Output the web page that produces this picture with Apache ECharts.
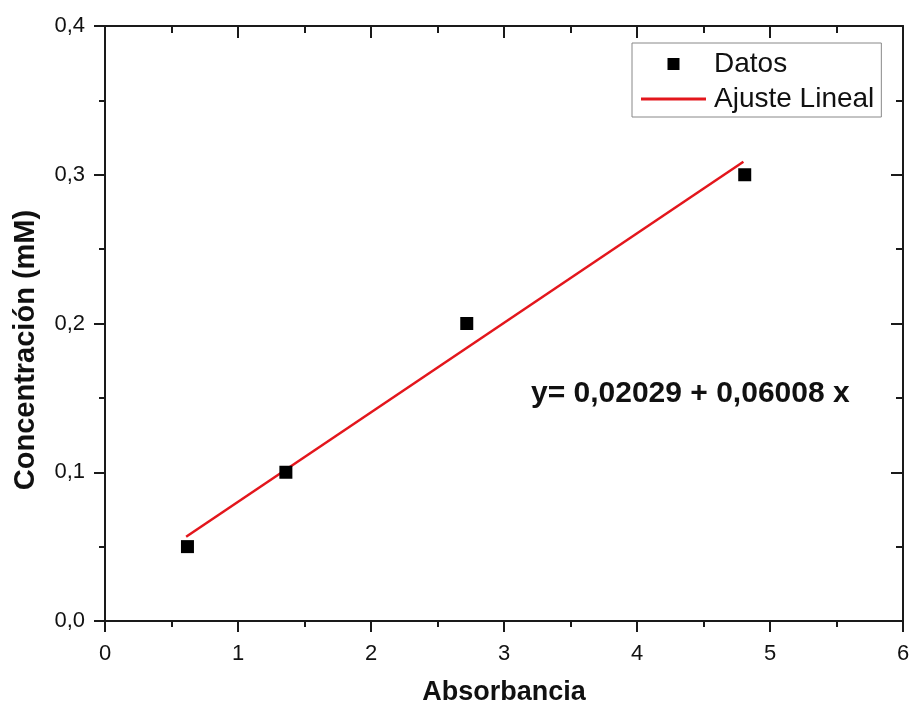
<!DOCTYPE html>
<html>
<head>
<meta charset="utf-8">
<script src="https://cdn.jsdelivr.net/npm/echarts@6/dist/echarts.min.js"></script>
<style>html,body{margin:0;padding:0;background:#fff}#c{width:914px;height:711px}</style>
</head>
<body>
<div id="c"></div>
<script>
var datosX = [0.62, 1.36, 2.72, 4.81];
var datosY = [0.05, 0.10, 0.20, 0.30];
var ajusteX = [0.61, 4.80];
var ajusteY = [0.0566, 0.3087];
var xTitle = 'Absorbancia';
var yTitle = 'Concentración (mM)';
var equation = 'y= 0,02029 + 0,06008 x';
var FONT = "'Liberation Sans', Arial, sans-serif";

var chart = echarts.init(document.getElementById('c'));
var axisLineStyle = {color: '#1a1a1a', width: 2};
var tickStyle = {color: '#1a1a1a', width: 2};
chart.setOption({
  animation: false,
  backgroundColor: '#fff',
  grid: {left: 105, right: 11, top: 26, bottom: 89},
  legend: {
    orient: 'vertical', left: 632, top: 43,
    padding: [7, 7, 4, 9], itemGap: 7,
    itemWidth: 65, itemHeight: 12,
    borderColor: '#888', borderWidth: 1,
    backgroundColor: '#fff',
    textStyle: {fontSize: 28, color: '#111', fontFamily: FONT, lineHeight: 28, padding: [0, 0, 0, 3]},
    data: [
      {name: 'Datos', icon: 'path://M0 0H10V10H0Z', itemStyle: {color: '#000', opacity: 1}},
      {name: 'Ajuste Lineal', icon: 'path://M0 0H100V4.5H0Z', itemStyle: {color: '#e3161c'}}
    ]
  },
  xAxis: [{
    type: 'value', position: 'bottom', min: 0, max: 6, interval: 1,
    axisLine: {show: true, onZero: false, lineStyle: axisLineStyle},
    axisTick: {show: true, inside: false, length: 11, lineStyle: tickStyle},
    minorTick: {show: true, splitNumber: 2, length: 6, lineStyle: tickStyle},
    splitLine: {show: false},
    axisLabel: {fontSize: 22, color: '#111', fontFamily: FONT, margin: 22},
    name: xTitle, nameLocation: 'middle', nameGap: 58,
    nameTextStyle: {fontSize: 27, fontWeight: 'bold', color: '#111', fontFamily: FONT}
  }, {
    type: 'value', position: 'top', min: 0, max: 6, interval: 1,
    axisLine: {show: true, onZero: false, lineStyle: axisLineStyle},
    axisTick: {show: true, inside: true, length: 12, lineStyle: tickStyle},
    minorTick: {show: true, splitNumber: 2, length: 7, lineStyle: tickStyle},
    splitLine: {show: false},
    axisLabel: {show: false}
  }],
  yAxis: [{
    type: 'value', position: 'left', min: 0, max: 0.4, interval: 0.1,
    axisLine: {show: true, onZero: false, lineStyle: axisLineStyle},
    axisTick: {show: true, inside: false, length: 11, lineStyle: tickStyle},
    minorTick: {show: true, splitNumber: 2, length: 6, lineStyle: tickStyle},
    splitLine: {show: false},
    axisLabel: {fontSize: 22, color: '#111', fontFamily: FONT, margin: 20,
      padding: [4, 0, 0, 0],
      formatter: function (v) { return v.toFixed(1).replace('.', ','); }}
  }, {
    type: 'value', position: 'right', min: 0, max: 0.4, interval: 0.1,
    axisLine: {show: true, onZero: false, lineStyle: axisLineStyle},
    axisTick: {show: true, inside: true, length: 12, lineStyle: tickStyle},
    minorTick: {show: true, splitNumber: 2, length: 7, lineStyle: tickStyle},
    splitLine: {show: false},
    axisLabel: {show: false}
  }],
  graphic: [{
    type: 'text', left: 531, top: 379,
    style: {text: equation, font: 'bold 30px ' + FONT, fill: '#111'}
  }, {
    type: 'text', x: 26, y: 350, rotation: Math.PI / 2,
    style: {text: yTitle, font: 'bold 29px ' + FONT, fill: '#111',
      align: 'center', verticalAlign: 'middle'}
  }],
  series: [{
    name: 'Ajuste Lineal', type: 'line', xAxisIndex: 0, yAxisIndex: 0,
    data: ajusteX.map(function (x, i) { return [x, ajusteY[i]]; }),
    showSymbol: false, symbol: 'none',
    lineStyle: {color: '#e3161c', width: 2.5},
    itemStyle: {color: '#e3161c'},
    z: 2
  }, {
    name: 'Datos', type: 'scatter', xAxisIndex: 0, yAxisIndex: 0,
    data: datosX.map(function (x, i) { return [x, datosY[i]]; }),
    symbol: 'rect', symbolSize: 13,
    itemStyle: {color: '#000', opacity: 1},
    z: 3
  }]
});
</script>
</body>
</html>
